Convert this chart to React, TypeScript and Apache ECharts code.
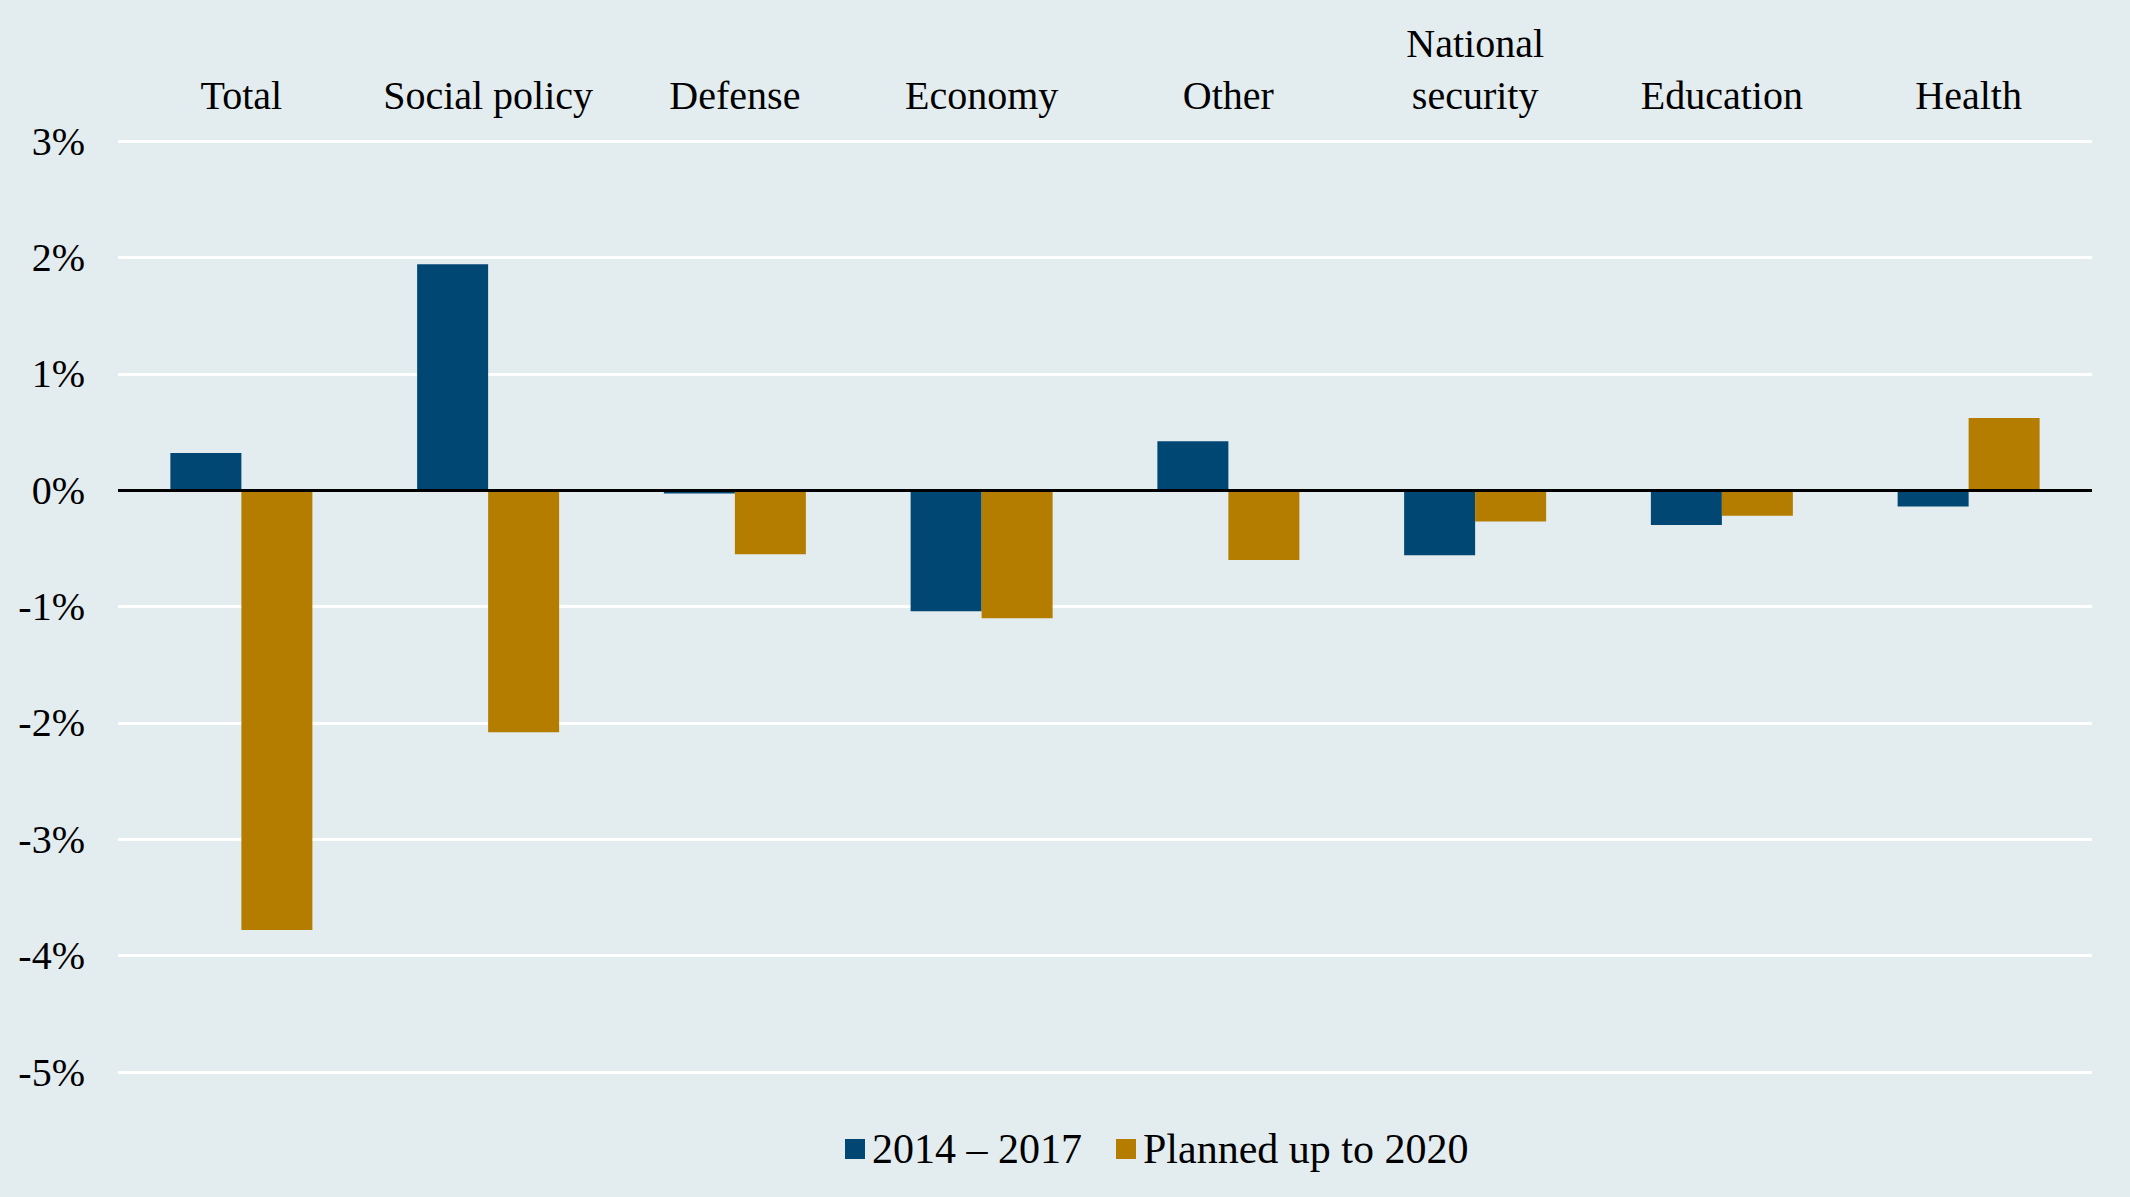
import React, { useEffect, useRef } from "react";
import * as echarts from "echarts";

const categories = [
  "Total",
  "Social policy",
  "Defense",
  "Economy",
  "Other",
  "National\nsecurity",
  "Education",
  "Health",
];
const seriesNames = ["2014 – 2017", "Planned up to 2020"];
const values2014to2017 = [0.32, 1.94, -0.03, -1.04, 0.42, -0.56, -0.3, -0.14];
const valuesPlanned2020 = [-3.78, -2.08, -0.55, -1.1, -0.6, -0.27, -0.22, 0.62];
const yMin = -5;
const yMax = 3;
const yInterval = 1;

const FONT = '"Liberation Serif", "DejaVu Serif", serif';
const BG = "#E3ECEE";
const BLUE = "#004774";
const GOLD = "#B47D00";

export default function App() {
  const ref = useRef<HTMLDivElement>(null);

  useEffect(() => {
    if (!ref.current) return;
    const chart = echarts.init(ref.current, undefined, { renderer: "svg" });
    chart.setOption({
      animation: false,
      backgroundColor: BG,
      textStyle: { fontFamily: FONT, color: "#000" },
      grid: { left: 118, right: 38, top: 141, bottom: 125, containLabel: false },
      legend: {
        left: 840,
        top: 1123,
        itemWidth: 20,
        itemHeight: 20,
        itemGap: 34,
        icon: "rect",
        textStyle: {
          fontFamily: FONT,
          fontSize: 42,
          color: "#000",
          padding: [0, 0, 0, 2],
          lineHeight: 42,
        },
        data: seriesNames,
      },
      xAxis: {
        type: "category",
        position: "top",
        data: categories,
        axisLine: { show: false },
        axisTick: { show: false },
        splitLine: { show: false },
        axisLabel: {
          fontFamily: FONT,
          fontSize: 40,
          color: "#000",
          lineHeight: 52,
          margin: 20,
          interval: 0,
        },
      },
      yAxis: {
        type: "value",
        min: yMin,
        max: yMax,
        interval: yInterval,
        axisLine: { show: false },
        axisTick: { show: false },
        splitLine: { show: true, lineStyle: { color: "#FFFFFF", width: 3 } },
        axisLabel: {
          fontFamily: FONT,
          fontSize: 40,
          color: "#000",
          margin: 33,
          formatter: "{value}%",
        },
      },
      series: [
        {
          name: seriesNames[0],
          type: "bar",
          data: values2014to2017,
          barWidth: 71,
          barGap: "0%",
          itemStyle: { color: BLUE },
          markLine: {
            silent: true,
            symbol: "none",
            label: { show: false },
            lineStyle: { color: "#000", width: 3, type: "solid" },
            data: [{ yAxis: 0 }],
            z: 10,
          },
        },
        {
          name: seriesNames[1],
          type: "bar",
          data: valuesPlanned2020,
          barWidth: 71,
          barGap: "0%",
          itemStyle: { color: GOLD },
        },
      ],
    });
    return () => chart.dispose();
  }, []);

  return (
    <div
      ref={ref}
      style={{ position: "fixed", left: 0, top: 0, width: 2130, height: 1197 }}
    />
  );
}
